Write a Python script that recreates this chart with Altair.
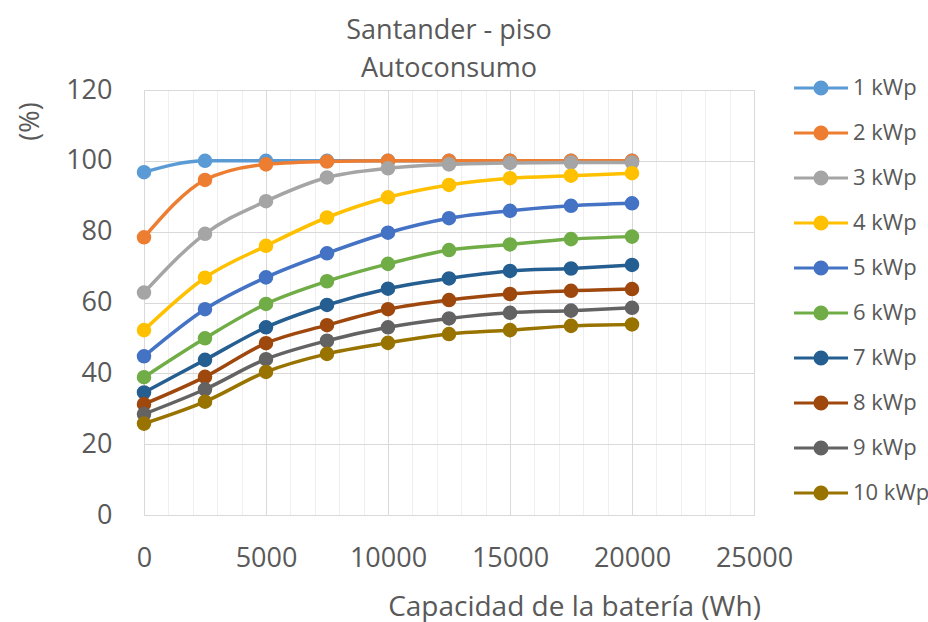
import altair as alt
import pandas as pd

# ---- data ----
capacidad = [0, 2500, 5000, 7500, 10000, 12500, 15000, 17500, 20000]
series_names = ["1 kWp", "2 kWp", "3 kWp", "4 kWp", "5 kWp",
                "6 kWp", "7 kWp", "8 kWp", "9 kWp", "10 kWp"]
s1 = [96.8, 100.0, 100.0, 100.0, 100.0, 100.0, 100.0, 100.0, 100.0]
s2 = [78.4, 94.6, 99.0, 99.8, 100.0, 100.0, 100.0, 100.0, 100.0]
s3 = [62.8, 79.4, 88.6, 95.3, 97.9, 99.0, 99.4, 99.5, 99.5]
s4 = [52.2, 67.0, 76.0, 84.0, 89.7, 93.2, 95.1, 95.8, 96.5]
s5 = [44.8, 58.1, 67.1, 73.9, 79.7, 83.8, 85.9, 87.3, 88.0]
s6 = [38.9, 49.9, 59.6, 66.0, 70.9, 74.8, 76.4, 77.9, 78.6]
s7 = [34.6, 43.8, 53.0, 59.3, 63.9, 66.8, 68.9, 69.6, 70.6]
s8 = [31.3, 39.0, 48.5, 53.6, 58.1, 60.7, 62.4, 63.3, 63.8]
s9 = [28.5, 35.5, 44.0, 49.2, 53.0, 55.5, 57.1, 57.7, 58.5]
s10 = [25.8, 32.0, 40.4, 45.5, 48.6, 51.1, 52.2, 53.4, 53.8]
all_series = [s1, s2, s3, s4, s5, s6, s7, s8, s9, s10]

colors = ["#5B9BD5", "#ED7D31", "#A5A5A5", "#FFC000", "#4472C4",
          "#70AD47", "#255E91", "#9E480E", "#636363", "#997300"]

x_ticks = list(range(0, 25001, 1000))
y_ticks = [0, 20, 40, 60, 80, 100, 120]

rows = []
for name, vals in zip(series_names, all_series):
    for c, v in zip(capacidad, vals):
        rows.append({"capacidad": c, "autoconsumo": v, "serie": name})
df = pd.DataFrame(rows)

FONT = "Open Sans"
GRAY = "#595959"

x = alt.X(
    "capacidad:Q",
    scale=alt.Scale(domain=[0, 25000], nice=False, zero=False),
    axis=alt.Axis(
        values=x_ticks,
        format="d",
        labelExpr="datum.value % 5000 === 0 ? datum.label : ''",
        ticks=False,
        domain=False,
        gridColor={"condition": {"test": "datum.value % 5000 === 0", "value": "#d9d9d9"},
                   "value": "#efefef"},
        gridWidth=1,
        labelPadding=30,
        labelFontSize=27,
        labelFont=FONT,
        labelColor=GRAY,
        labelOverlap=False,
        labelFlush=False,
        title="Capacidad de la batería (Wh)",
        titleX=430,
        titleY=100,
        titleAlign="center",
        titleBaseline="alphabetic",
        titleFontSize=28,
        titleFont=FONT,
        titleFontWeight="normal",
        titleColor=GRAY,
    ),
)

y = alt.Y(
    "autoconsumo:Q",
    scale=alt.Scale(domain=[0, 120], nice=False),
    axis=alt.Axis(
        values=y_ticks,
        ticks=False,
        domain=False,
        gridColor="#d9d9d9",
        gridWidth=1,
        labelPadding=32,
        labelFontSize=27,
        labelFont=FONT,
        labelColor=GRAY,
        title="(%)",
        titleX=-114,
        titleY=31,
        titleAngle=270,
        titleAlign="center",
        titleBaseline="middle",
        titleFontSize=27,
        titleFont=FONT,
        titleFontWeight="normal",
        titleColor=GRAY,
    ),
)

color_scale = alt.Scale(domain=series_names, range=colors)

SYMBOL = "M-2,0L2,0M-0.45,0A0.45,0.45,0,1,0,0.45,0A0.45,0.45,0,1,0,-0.45,0Z"
legend = alt.Legend(
    title=None,
    orient="none",
    legendX=662,
    legendY=-17,
    padding=0,
    symbolType=SYMBOL,
    symbolSize=729,
    symbolStrokeWidth=3,
    symbolOpacity=1,
    labelFontSize=22,
    labelFont=FONT,
    labelColor=GRAY,
    labelOffset=17,
    rowPadding=17,
)

lines = alt.Chart(df).mark_line(interpolate="monotone", strokeWidth=3.5).encode(
    x=x,
    y=y,
    stroke=alt.Stroke("serie:N", scale=color_scale, legend=legend),
)

points = alt.Chart(df).mark_point(filled=True, size=170, opacity=1, strokeWidth=1.5).encode(
    x=x,
    y=y,
    fill=alt.Fill("serie:N", scale=color_scale, legend=legend),
    stroke=alt.Stroke("serie:N", scale=color_scale, legend=legend),
)

chart = alt.layer(lines, points).properties(
    width=610,
    height=425,
    title=alt.TitleParams(
        ["Santander - piso", "Autoconsumo"],
        fontSize=27,
        font=FONT,
        color=GRAY,
        fontWeight="normal",
        anchor="middle",
        offset=-10,
        lineHeight=38,
    ),
    autosize=alt.AutoSizeParams(type="none"),
    padding={"left": 144, "top": 90, "right": 174, "bottom": 107},
).configure_view(
    stroke="#d9d9d9", strokeWidth=1
).configure(background="white")

chart.save("out.html", embed_options={"renderer": "svg", "actions": False})
